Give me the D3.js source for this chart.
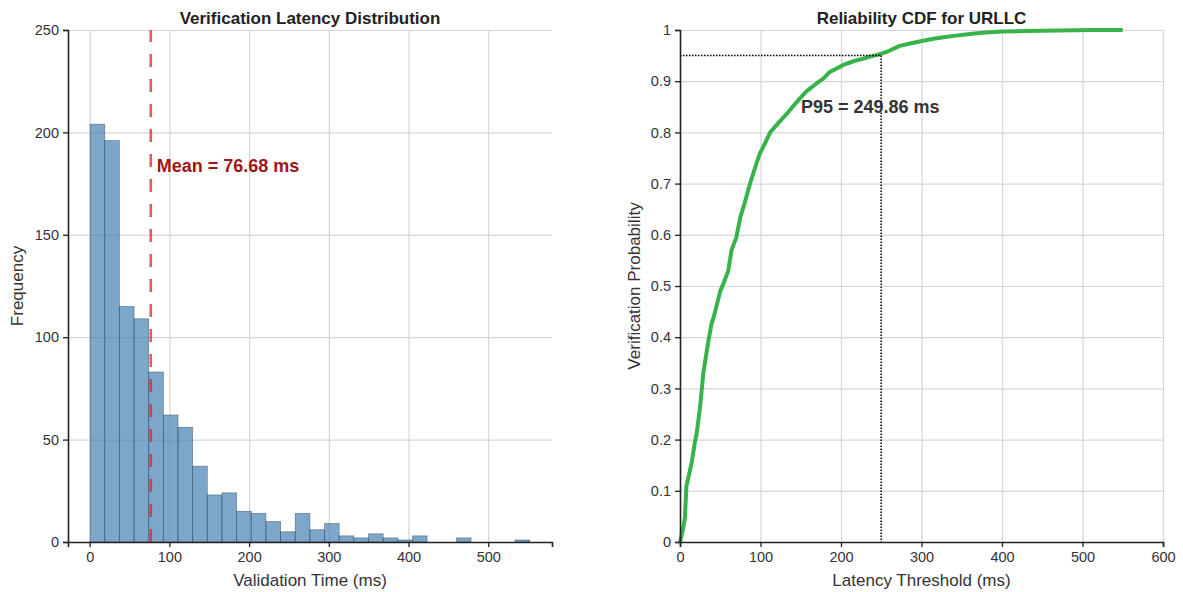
<!DOCTYPE html>
<html>
<head>
<meta charset="utf-8">
<script src="https://cdn.jsdelivr.net/npm/d3@7/dist/d3.min.js"></script>
<style>
  body { margin: 0; background: #fff; }
  svg { font-family: "Liberation Sans", Arial, sans-serif; }
  .tick text { fill: #333; font-size: 14.5px; }
  .grid line { stroke: #d6d6d6; stroke-width: 1.2; }
  .grid path { display: none; }
</style>
</head>
<body>
<svg width="1183" height="592"></svg>
<script>
// histogram: 30 bins between min and max latency
var latencyMin = 0.5, latencyMax = 552;
var binCounts = [204, 196, 115, 109, 83, 62, 56, 37, 23, 24,
                 15, 14, 10, 5, 14, 6, 9, 3, 2, 4,
                 2, 1, 3, 0, 0, 2, 0, 0, 0, 1];
var meanLatency = 76.68;
var histXTicks = [0, 100, 200, 300, 400, 500];
var histYTicks = [0, 50, 100, 150, 200, 250];

// CDF points
var cdfLatency = [0, 3, 6, 8, 11, 14.5, 18, 21, 25, 29, 32, 35, 39, 42, 46, 50, 54, 60, 64, 70, 75,
                  80, 87, 93, 99, 106, 112, 122, 132, 140, 147, 157, 170, 178, 186, 195, 203, 212,
                  220, 228, 236, 244, 250, 258, 265, 273, 287, 302, 315, 327, 343, 360, 380, 400, 430, 470, 510, 550];
var cdfProb = [0, 0.02, 0.045, 0.11, 0.13, 0.155, 0.19, 0.215, 0.265, 0.33, 0.36, 0.39, 0.425, 0.44, 0.465, 0.49, 0.505, 0.53, 0.57, 0.595, 0.635,
               0.66, 0.70, 0.73, 0.758, 0.78, 0.80, 0.818, 0.835, 0.85, 0.863, 0.88, 0.896, 0.905, 0.918, 0.925, 0.932, 0.937,
               0.941, 0.944, 0.948, 0.951, 0.954, 0.958, 0.963, 0.969, 0.974, 0.979, 0.983, 0.986, 0.989, 0.992, 0.995, 0.997, 0.998, 0.999, 1, 1];
var p95 = 249.86;
var cdfXTicks = [0, 100, 200, 300, 400, 500, 600];
var cdfYTicks = [0, 0.1, 0.2, 0.3, 0.4, 0.5, 0.6, 0.7, 0.8, 0.9, 1];

var svg = d3.select('svg');

// ---------- left: histogram ----------
var L = {left: 68, right: 552, top: 30, bottom: 542};
var x1 = d3.scaleLinear().domain([-27.2, 580]).range([L.left, L.right]);
var y1 = d3.scaleLinear().domain([0, 250]).range([L.bottom, L.top]);

var g1 = svg.append('g');
g1.append('g').attr('class', 'grid')
  .attr('transform', 'translate(0,' + L.bottom + ')')
  .call(d3.axisBottom(x1).tickValues(histXTicks).tickSize(-(L.bottom - L.top)).tickFormat(''));
g1.append('g').attr('class', 'grid')
  .attr('transform', 'translate(' + L.left + ',0)')
  .call(d3.axisLeft(y1).tickValues(histYTicks).tickSize(-(L.right - L.left)).tickFormat(''));

var binW = (latencyMax - latencyMin) / binCounts.length;
g1.append('g').selectAll('rect')
  .data(binCounts)
  .enter()
  .append('rect')
  .attr('x', function(d, i){ return x1(latencyMin + i * binW); })
  .attr('width', function(d, i){ return x1(latencyMin + (i + 1) * binW) - x1(latencyMin + i * binW); })
  .attr('y', function(d){ return y1(d); })
  .attr('height', function(d){ return y1(0) - y1(d); })
  .attr('fill', 'steelblue').attr('fill-opacity', 0.7)
  .attr('stroke', '#1a2a3a').attr('stroke-opacity', 0.45).attr('stroke-width', 0.8);

g1.append('line')
  .attr('x1', x1(meanLatency)).attr('x2', x1(meanLatency))
  .attr('y1', L.bottom).attr('y2', L.top)
  .attr('stroke', '#d62728').attr('stroke-opacity', 0.75)
  .attr('stroke-width', 2.6).attr('stroke-dasharray', '13,12');

g1.append('text')
  .attr('x', x1(meanLatency) + 6).attr('y', 172)
  .attr('fill', '#a01515').attr('font-size', 18).attr('font-weight', 'bold')
  .text('Mean = ' + meanLatency.toFixed(2) + ' ms');

g1.append('g').attr('transform', 'translate(0,' + L.bottom + ')')
  .call(d3.axisBottom(x1).tickValues(histXTicks).tickSize(5).tickPadding(5));
g1.append('g').attr('transform', 'translate(' + L.left + ',0)')
  .call(d3.axisLeft(y1).tickValues(histYTicks).tickSize(5).tickPadding(4));

g1.append('text').attr('x', (L.left + L.right) / 2).attr('y', 24)
  .attr('text-anchor', 'middle').attr('font-size', 17).attr('font-weight', 'bold').attr('fill', '#222')
  .text('Verification Latency Distribution');
g1.append('text').attr('x', (L.left + L.right) / 2).attr('y', 586)
  .attr('text-anchor', 'middle').attr('font-size', 17).attr('fill', '#333')
  .text('Validation Time (ms)');
g1.append('text').attr('transform', 'translate(23,' + (L.top + L.bottom) / 2 + ')rotate(-90)')
  .attr('text-anchor', 'middle').attr('font-size', 17).attr('fill', '#333')
  .text('Frequency');

// ---------- right: CDF ----------
var R = {left: 680, right: 1163, top: 30, bottom: 542};
var x2 = d3.scaleLinear().domain([0, 600]).range([R.left, R.right]);
var y2 = d3.scaleLinear().domain([0, 1]).range([R.bottom, R.top]);

var g2 = svg.append('g');
g2.append('g').attr('class', 'grid')
  .attr('transform', 'translate(0,' + R.bottom + ')')
  .call(d3.axisBottom(x2).tickValues(cdfXTicks).tickSize(-(R.bottom - R.top)).tickFormat(''));
g2.append('g').attr('class', 'grid')
  .attr('transform', 'translate(' + R.left + ',0)')
  .call(d3.axisLeft(y2).tickValues(cdfYTicks).tickSize(-(R.right - R.left)).tickFormat(''));

var line = d3.line()
  .x(function(d){ return x2(d[0]); })
  .y(function(d){ return y2(d[1]); });
g2.append('path')
  .datum(d3.zip(cdfLatency, cdfProb))
  .attr('d', line)
  .attr('fill', 'none').attr('stroke', '#37b34a').attr('stroke-width', 4)
  .attr('stroke-linejoin', 'round');

g2.append('line')
  .attr('x1', x2(0)).attr('x2', x2(p95)).attr('y1', y2(0.95)).attr('y2', y2(0.95))
  .attr('stroke', '#000').attr('stroke-width', 1.5).attr('stroke-dasharray', '1.5,1.5');
g2.append('line')
  .attr('x1', x2(p95)).attr('x2', x2(p95)).attr('y1', y2(0.95)).attr('y2', y2(0))
  .attr('stroke', '#000').attr('stroke-width', 1.5).attr('stroke-dasharray', '1.5,1.5');

g2.append('text')
  .attr('x', 801).attr('y', 113)
  .attr('fill', '#333').attr('font-size', 18).attr('font-weight', 'bold')
  .text('P95 = ' + p95.toFixed(2) + ' ms');

g2.append('g').attr('transform', 'translate(0,' + R.bottom + ')')
  .call(d3.axisBottom(x2).tickValues(cdfXTicks).tickSize(5).tickPadding(5));
g2.append('g').attr('transform', 'translate(' + R.left + ',0)')
  .call(d3.axisLeft(y2).tickValues(cdfYTicks).tickSize(5).tickPadding(4).tickFormat(d3.format('~g')));

g2.append('text').attr('x', (R.left + R.right) / 2).attr('y', 24)
  .attr('text-anchor', 'middle').attr('font-size', 17).attr('font-weight', 'bold').attr('fill', '#222')
  .text('Reliability CDF for URLLC');
g2.append('text').attr('x', (R.left + R.right) / 2).attr('y', 586)
  .attr('text-anchor', 'middle').attr('font-size', 17).attr('fill', '#333')
  .text('Latency Threshold (ms)');
g2.append('text').attr('transform', 'translate(640,' + (R.top + R.bottom) / 2 + ')rotate(-90)')
  .attr('text-anchor', 'middle').attr('font-size', 17).attr('fill', '#333')
  .text('Verification Probability');

// spine styling
svg.selectAll('.domain').attr('stroke', '#222').attr('stroke-width', 1.6);
svg.selectAll('.tick line').filter(function(){ return !this.closest('.grid'); })
  .attr('stroke', '#222').attr('stroke-width', 1.3);
</script>
</body>
</html>
